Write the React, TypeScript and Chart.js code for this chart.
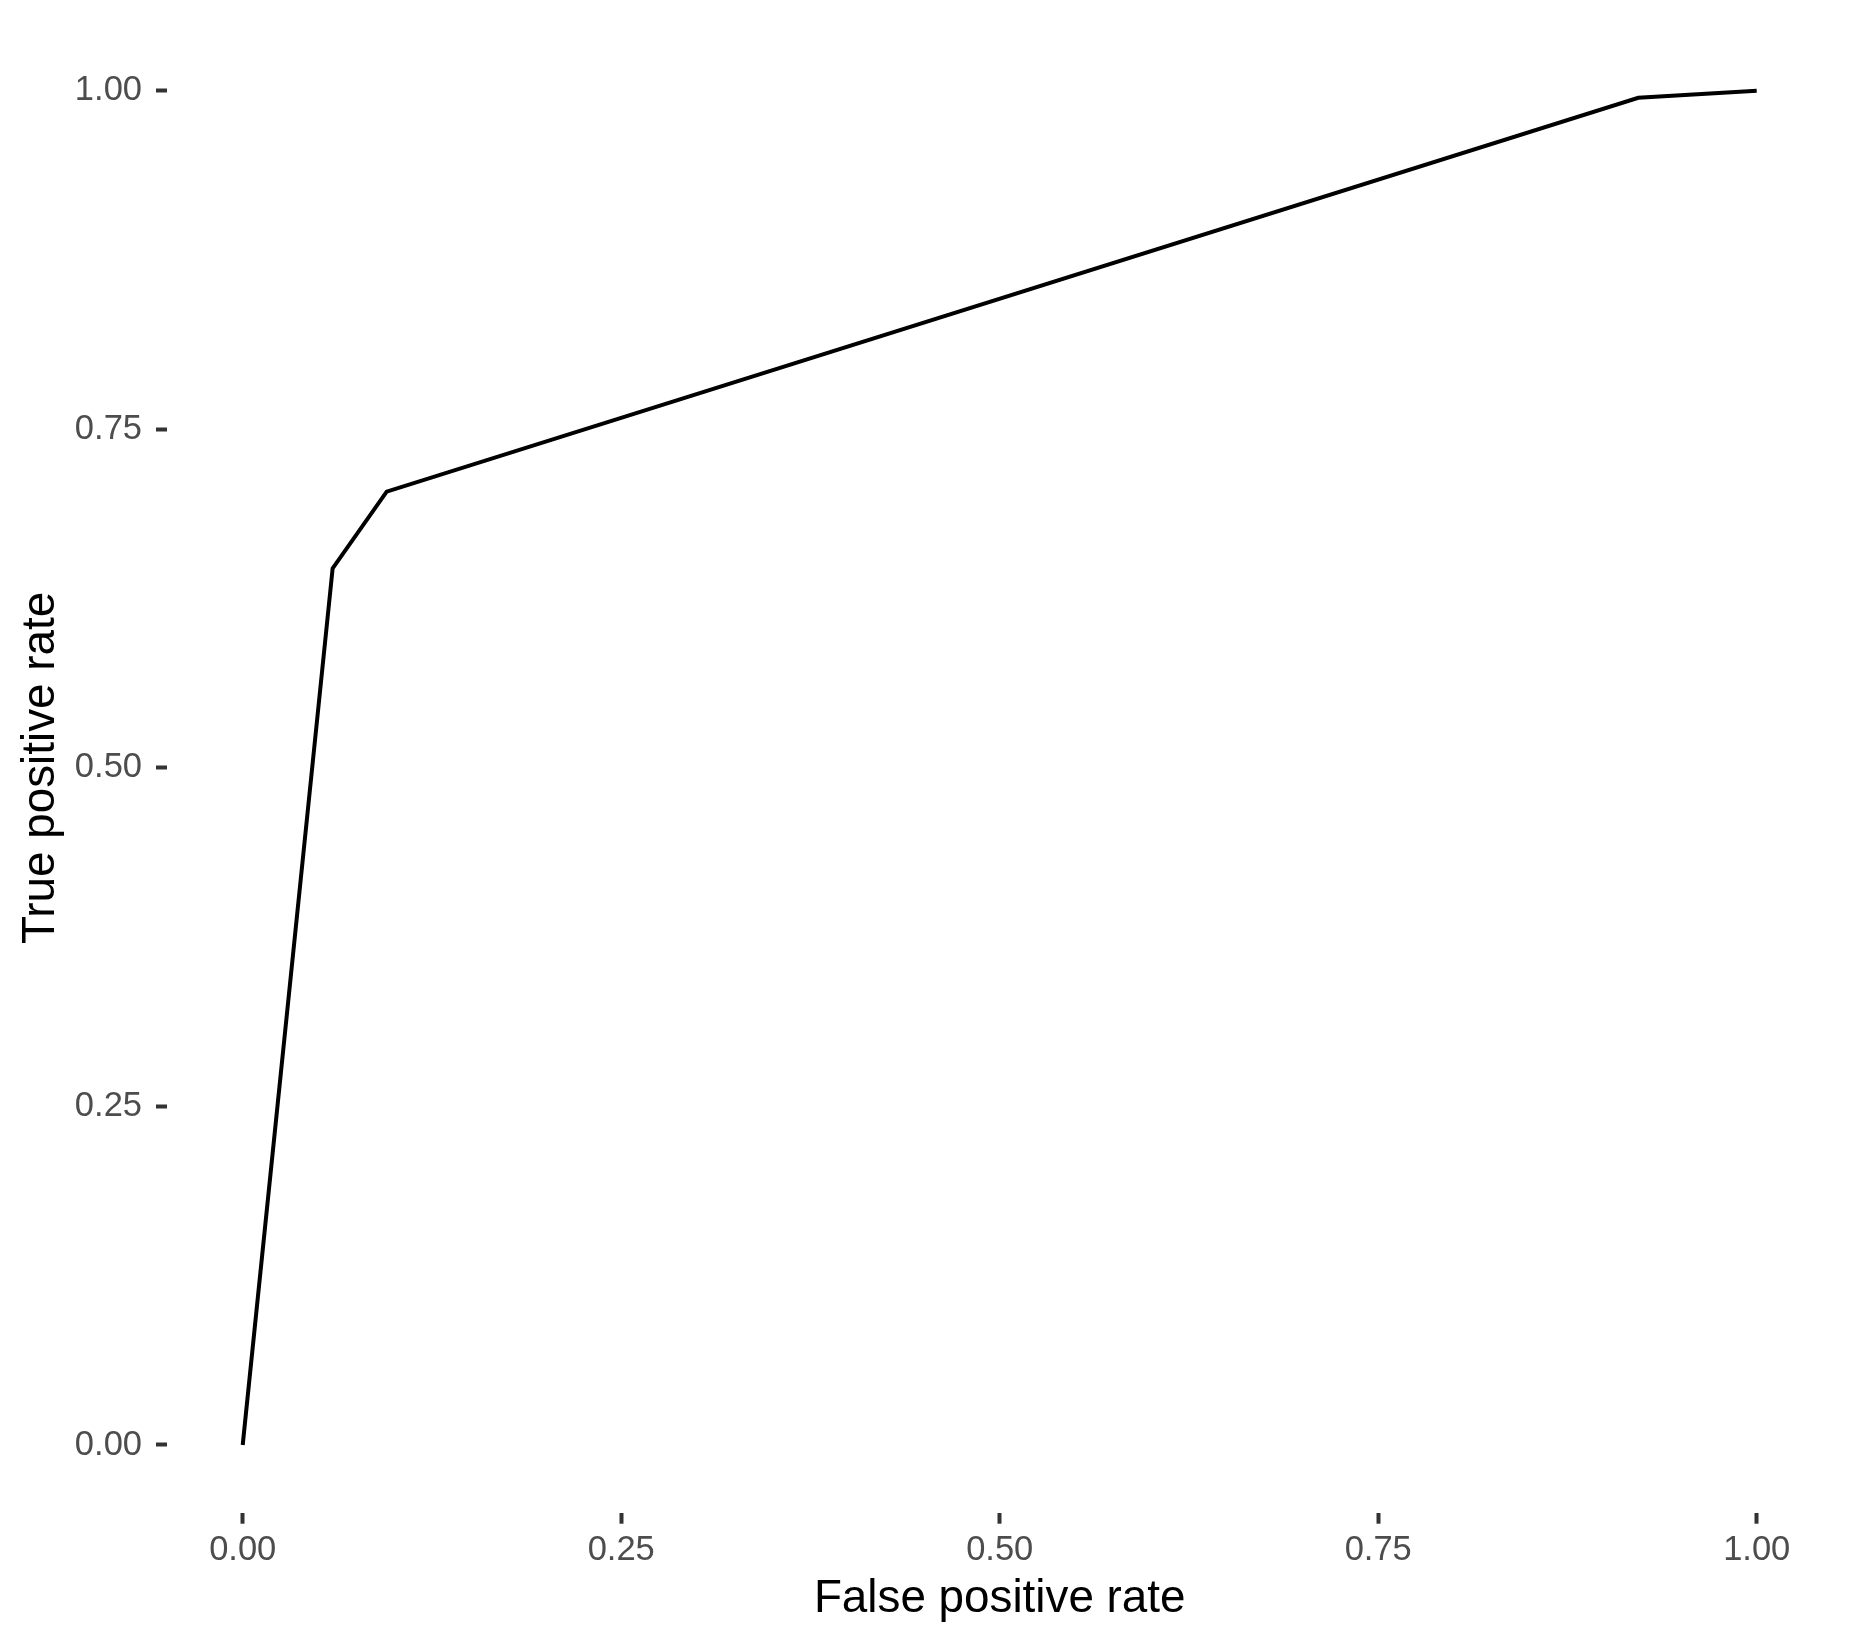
import React, { useEffect, useRef } from "react";
import { Chart, registerables } from "chart.js";

Chart.register(...registerables);

const falsePositiveRate = [0, 0.0594, 0.0951, 0.9218, 1];
const truePositiveRate = [0, 0.6473, 0.7039, 0.9948, 1];
const tickValues = [0, 0.25, 0.5, 0.75, 1];
const tickLabels = ["0.00", "0.25", "0.50", "0.75", "1.00"];
const xTitle = "False positive rate";
const yTitle = "True positive rate";

const W = 1856;
const H = 1643;
const FONT = "'Liberation Sans', Arial, sans-serif";

export default function App() {
  const ref = useRef<HTMLCanvasElement | null>(null);

  useEffect(() => {
    document.body.style.margin = "0";
    const canvas = ref.current;
    if (!canvas) return;
    const points = falsePositiveRate.map((x, i) => ({ x, y: truePositiveRate[i] }));
    const fixTicks = (scale: any) => {
      scale.ticks = tickValues.map((v) => ({ value: v }));
    };
    const tickCfg = {
      color: "#4D4D4D",
      font: { family: FONT, size: 34.5 },
      callback: (v: any) => {
        const idx = tickValues.indexOf(Number(v));
        return idx >= 0 ? tickLabels[idx] : "";
      },
    };
    const chart = new Chart(canvas, {
      type: "scatter",
      data: {
        datasets: [
          {
            data: points,
            showLine: true,
            borderColor: "#000000",
            borderWidth: 4,
            pointRadius: 0,
            fill: false,
            tension: 0,
          },
        ],
      },
      options: {
        responsive: false,
        animation: false,
        devicePixelRatio: 1,
        layout: { padding: { top: 23, right: 23.6, left: 0, bottom: 0 } },
        plugins: { legend: { display: false }, tooltip: { enabled: false } },
        scales: {
          x: {
            type: "linear",
            min: -0.05,
            max: 1.05,
            afterBuildTicks: fixTicks,
            afterFit: (s: any) => {
              s.height = 130.3;
              s.paddingLeft = 0;
              s.paddingRight = 0;
            },
            grid: {
              display: true,
              drawOnChartArea: false,
              drawTicks: true,
              tickLength: 11,
              tickWidth: 4,
              tickColor: "#333333",
            },
            border: { display: false },
            ticks: { ...tickCfg, padding: 6, maxRotation: 0, autoSkip: false },
            title: {
              display: true,
              text: xTitle,
              color: "#000000",
              font: { family: FONT, size: 45.8 },
              padding: { top: 0, bottom: 16.5 },
            },
          },
          y: {
            type: "linear",
            min: -0.05,
            max: 1.05,
            afterBuildTicks: fixTicks,
            afterFit: (s: any) => {
              s.width = 167;
              s.paddingTop = 0;
              s.paddingBottom = 0;
            },
            grid: {
              display: true,
              drawOnChartArea: false,
              drawTicks: true,
              tickLength: 11,
              tickWidth: 4,
              tickColor: "#333333",
            },
            border: { display: false },
            ticks: { ...tickCfg, padding: 14, autoSkip: false },
            title: {
              display: true,
              text: yTitle,
              color: "#000000",
              font: { family: FONT, size: 45.8 },
              padding: { top: 14, bottom: 0 },
            },
          },
        },
      },
    } as any);
    return () => chart.destroy();
  }, []);

  return (
    <div style={{ position: "absolute", left: 0, top: 0, width: W, height: H, background: "#ffffff" }}>
      <canvas ref={ref} width={W} height={H} style={{ width: W, height: H, display: "block" }} />
    </div>
  );
}
